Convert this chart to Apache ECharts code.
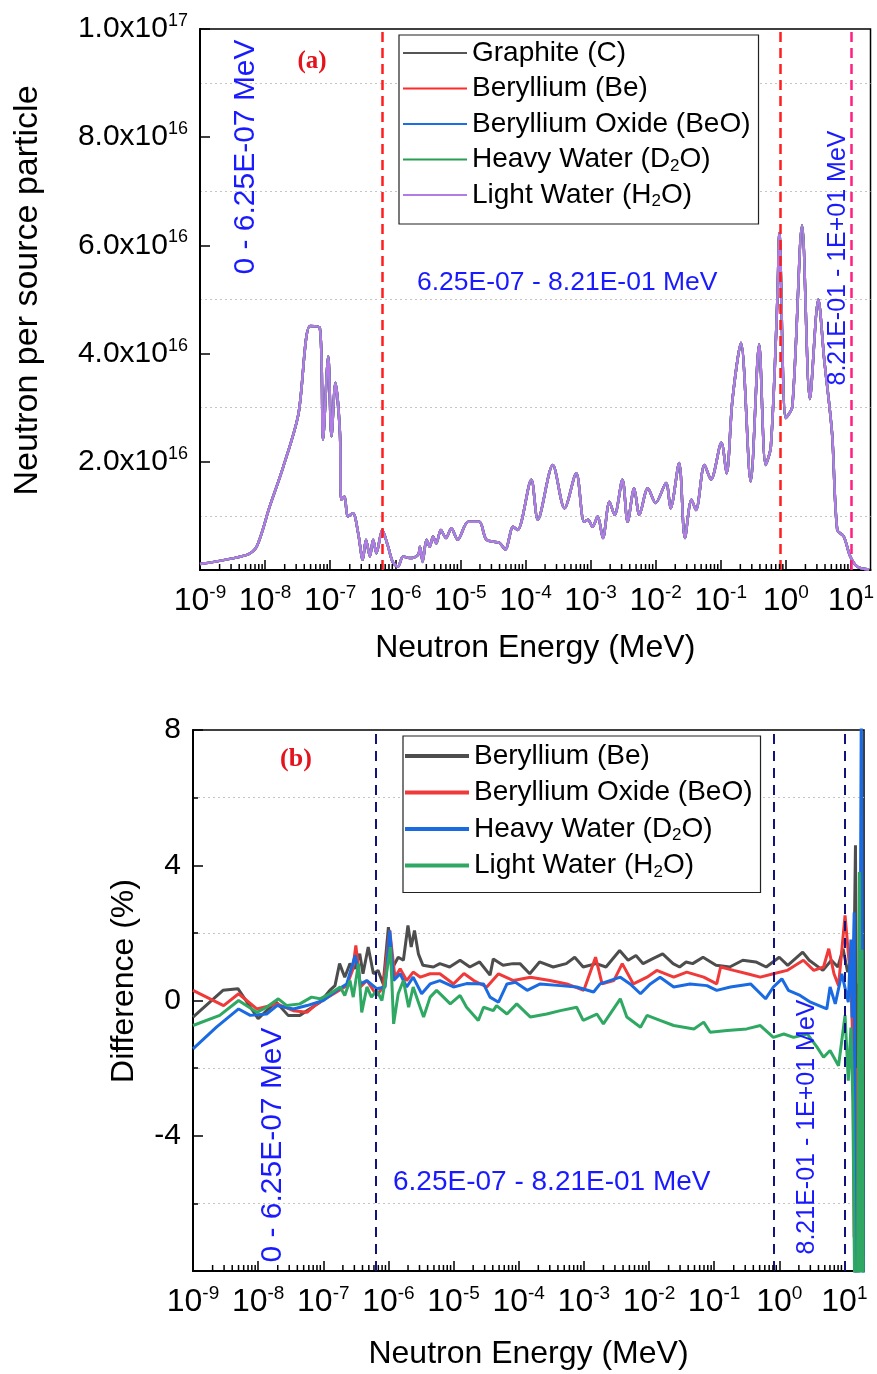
<!DOCTYPE html>
<html><head><meta charset="utf-8">
<script src="https://cdn.jsdelivr.net/npm/echarts@6/dist/echarts.min.js"></script>
<style>html,body{margin:0;padding:0;background:#fff}#c{width:877px;height:1374px}</style>
</head><body><div id="c"></div>
<script>
const FONT = '"Liberation Sans", Arial, sans-serif';
const SERIF = '"Liberation Serif", "Times New Roman", serif';

// ---------- Panel (a): neutron spectrum (x = log10 of energy in MeV, y in units of 1e16) ----------
const topLogE = [-9.00,-8.28,-8.13,-7.93,-7.72,-7.49,-7.31,-7.16,-7.11,-7.03,-6.98,-6.92,-6.85,-6.83,-6.78,-6.73,-6.65,-6.57,-6.50,-6.45,-6.39,-6.34,-6.29,-6.20,-6.11,-6.04,-5.96,-5.88,-5.78,-5.65,-5.62,-5.58,-5.52,-5.47,-5.42,-5.37,-5.30,-5.22,-5.14,-5.04,-4.88,-4.71,-4.60,-4.40,-4.31,-4.19,-4.12,-3.91,-3.81,-3.58,-3.40,-3.22,-3.10,-3.04,-2.97,-2.89,-2.81,-2.71,-2.63,-2.51,-2.43,-2.33,-2.25,-2.12,-2.00,-1.84,-1.77,-1.64,-1.55,-1.45,-1.38,-1.25,-1.15,-0.99,-0.91,-0.82,-0.69,-0.54,-0.41,-0.31,-0.23,-0.13,-0.10,0.00,0.10,0.25,0.37,0.50,0.59,0.71,0.79,0.89,0.99,1.10,1.28];
const topFlux = [0.11,0.28,0.43,1.17,1.91,2.87,4.51,4.48,2.41,3.95,2.47,3.46,2.53,1.30,1.36,0.99,1.05,0.68,0.19,0.56,0.25,0.56,0.31,0.74,0.43,0.15,0.06,0.25,0.22,0.28,0.43,0.15,0.56,0.43,0.62,0.49,0.74,0.59,0.77,0.56,0.89,0.89,0.56,0.50,0.38,0.80,0.74,1.67,0.93,1.94,1.14,1.79,0.89,0.93,0.80,0.99,0.59,1.26,1.02,1.67,0.89,1.51,1.02,1.51,1.24,1.61,1.14,1.98,0.59,1.30,1.11,1.94,1.67,2.35,1.79,3.15,4.20,1.64,4.17,1.94,2.28,5.00,6.23,2.81,3.02,6.37,3.16,5.00,3.89,2.53,0.74,0.62,0.25,0.06,0.01];
const topNames = ['Graphite (C)','Beryllium (Be)','Beryllium Oxide (BeO)','Heavy Water (D2O)','Light Water (H2O)'];
const topColors = ['#555555','#ff2a2a','#1c6ee6','#2a9d55','#b27be6'];

// ---------- Panel (b): difference (%) ----------
const beLogE = [-9.00,-8.54,-8.31,-8.00,-7.87,-7.72,-7.54,-7.36,-7.21,-7.05,-6.90,-6.82,-6.75,-6.67,-6.59,-6.52,-6.44,-6.39,-6.31,-6.23,-6.16,-6.08,-6.00,-5.93,-5.85,-5.77,-5.70,-5.65,-5.60,-5.54,-5.47,-5.31,-5.21,-5.06,-4.90,-4.75,-4.60,-4.44,-4.39,-4.24,-4.09,-3.98,-3.83,-3.68,-3.47,-3.27,-3.14,-3.01,-2.81,-2.66,-2.45,-2.32,-2.20,-2.09,-1.94,-1.79,-1.63,-1.53,-1.43,-1.33,-1.17,-0.97,-0.76,-0.56,-0.36,-0.20,0.00,0.13,0.36,0.46,0.67,0.80,0.90,0.98,1.05,1.10,1.13,1.17,1.19,1.21];
const beDiff = [-0.49,0.30,0.35,-0.54,-0.30,-0.05,-0.44,-0.44,-0.25,-0.05,0.30,0.44,1.09,0.69,1.09,0.94,1.38,0.79,1.58,0.79,0.89,0.49,2.17,0.99,1.28,1.19,2.22,1.58,2.07,1.38,1.04,0.99,1.09,0.99,1.19,0.99,1.14,0.75,1.23,1.04,1.09,1.09,0.79,1.14,0.99,1.09,1.28,0.99,1.09,0.99,1.48,1.19,1.33,1.09,1.24,1.38,1.09,0.99,1.14,1.09,1.28,1.04,0.99,1.19,1.14,0.99,1.28,1.04,1.43,1.19,0.89,1.19,0.99,1.53,0.84,1.20,-1.50,4.59,-3.00,0.50];

const beoLogE = [-9.00,-8.53,-8.30,-8.02,-7.71,-7.46,-7.25,-7.10,-6.84,-6.64,-6.55,-6.50,-6.43,-6.33,-6.18,-6.08,-5.98,-5.90,-5.82,-5.72,-5.62,-5.51,-5.36,-5.21,-5.00,-4.84,-4.69,-4.49,-4.31,-4.08,-3.82,-3.52,-3.26,-3.00,-2.82,-2.72,-2.54,-2.41,-2.24,-2.03,-1.88,-1.62,-1.42,-1.16,-0.96,-0.90,-0.70,-0.49,-0.29,-0.09,0.12,0.37,0.53,0.68,0.76,0.84,0.91,1.01,1.07,1.10,1.13,1.15,1.17,1.19];
const beoDiff = [0.30,-0.15,0.20,-0.25,-0.10,-0.30,-0.35,-0.10,0.20,0.44,0.90,1.63,0.40,0.59,0.15,0.40,2.07,0.69,0.94,0.59,0.84,0.69,0.79,0.79,0.49,0.80,0.59,0.40,0.79,0.59,0.69,0.59,0.49,0.30,1.28,0.49,0.59,1.09,0.49,0.69,0.89,0.69,0.84,0.69,0.49,0.99,0.89,0.79,0.69,0.79,0.89,1.19,0.89,0.99,1.53,0.79,0.44,2.52,1.19,0.90,-1.00,-7.00,-2.00,-9.00];

const d2oLogE = [-9.00,-8.64,-8.30,-8.12,-7.87,-7.71,-7.46,-7.25,-7.00,-6.79,-6.64,-6.51,-6.43,-6.33,-6.18,-6.05,-5.98,-5.92,-5.82,-5.72,-5.62,-5.49,-5.36,-5.21,-5.00,-4.80,-4.54,-4.44,-4.31,-4.18,-4.05,-3.87,-3.67,-3.36,-3.11,-2.85,-2.75,-2.44,-2.29,-2.13,-1.98,-1.83,-1.62,-1.37,-1.11,-0.96,-0.75,-0.44,-0.21,-0.09,0.04,0.14,0.32,0.48,0.73,0.78,0.86,0.96,1.06,1.10,1.12,1.15,1.17,1.22,1.26,1.29];
const d2oDiff = [-1.43,-0.79,-0.25,-0.44,-0.40,-0.15,-0.25,-0.15,0.00,0.30,0.49,1.33,0.49,0.59,0.35,0.40,2.07,0.59,0.79,0.40,0.69,0.20,0.49,0.59,0.40,0.50,0.49,0.10,-0.05,0.49,0.54,0.30,0.49,0.44,0.40,0.25,0.49,0.69,0.49,0.20,0.49,0.69,0.40,0.49,0.44,0.30,0.40,0.49,0.05,0.40,0.64,0.30,0.15,-0.05,-0.25,0.40,-0.10,0.79,-0.05,1.80,-0.50,2.60,-9.00,-9.00,9.00,-9.00];

const h2oLogE = [-9.00,-8.59,-8.30,-8.02,-7.87,-7.69,-7.56,-7.36,-7.18,-7.05,-6.90,-6.74,-6.67,-6.59,-6.54,-6.46,-6.41,-6.33,-6.26,-6.18,-6.10,-6.03,-5.97,-5.92,-5.85,-5.77,-5.69,-5.62,-5.54,-5.46,-5.36,-5.26,-5.05,-4.90,-4.80,-4.62,-4.54,-4.39,-4.34,-4.18,-4.03,-3.82,-3.57,-3.36,-3.11,-3.01,-2.80,-2.70,-2.44,-2.34,-2.13,-2.03,-1.83,-1.62,-1.31,-1.16,-1.06,-0.80,-0.50,-0.29,-0.09,0.07,0.22,0.43,0.58,0.68,0.78,0.91,1.01,1.06,1.10,1.13,1.16,1.20,1.23,1.25,1.27,1.29];
const h2oDiff = [-0.74,-0.44,0.00,-0.35,-0.20,0.05,-0.15,-0.10,0.10,0.05,0.20,0.40,0.15,0.59,0.10,1.09,-0.35,0.40,0.10,0.30,0.00,0.79,1.58,-0.69,0.20,0.59,-0.20,0.40,-0.05,-0.49,0.10,0.30,-0.10,0.15,-0.20,-0.59,-0.20,-0.30,-0.15,-0.40,-0.10,-0.49,-0.40,-0.30,-0.20,-0.59,-0.40,-0.69,0.05,-0.49,-0.79,-0.44,-0.59,-0.74,-0.84,-0.64,-0.94,-0.89,-0.84,-0.74,-1.09,-0.99,-1.09,-0.99,-1.38,-1.68,-1.48,-1.93,-0.44,-2.37,-0.80,-3.00,-9.00,-9.00,3.80,-9.00,1.50,-9.00];

const botNames = ['Beryllium (Be) ','Beryllium Oxide (BeO) ','Heavy Water (D2O) ','Light Water (H2O) '];
const botColors = ['#4d4d4d','#f03a3a','#1a6ae2','#2ea862'];

// region boundaries (MeV) and log-axis tick scheme
const boundaryE = [6.25e-7, 8.21e-1, 10];
const decades = [-9,-8,-7,-6,-5,-4,-3,-2,-1,0];
const minorMult = [2,3,4,5,6,7,8,9];
const xMaxE = 20;

const labelMap = {
  'Heavy Water (D2O)': 'Heavy Water (D{sub|2}O)',
  'Light Water (H2O)': 'Light Water (H{sub|2}O)',
  'Heavy Water (D2O) ': 'Heavy Water (D{sub|2}O)',
  'Light Water (H2O) ': 'Light Water (H{sub|2}O)'
};
const fmtLegend = n => labelMap[n] || n.trim();

const pair = (xs, ys) => xs.map((x, i) => [x, ys[i]]);
const minorPos = [];
decades.forEach(d => minorMult.forEach(m => minorPos.push(d + Math.log10(m))));

function xAxisCfg(gi, nameGap) {
  return {
    type: 'value', gridIndex: gi, min: -9, max: Math.log10(xMaxE), interval: 1,
    axisLine: {onZero: false, lineStyle: {color: '#000', width: 2}},
    axisTick: {inside: true, length: 10, lineStyle: {color: '#000', width: 1.5}},
    splitLine: {show: false},
    axisLabel: {
      margin: 13, color: '#000', fontFamily: FONT, fontSize: 32, lineHeight: 36,
      showMaxLabel: false,
      formatter: v => Math.abs(v - Math.round(v)) < 1e-6 ? '10{s|' + Math.round(v) + '}' : '',
      rich: {s: {fontSize: 19, fontFamily: FONT, color: '#000', lineHeight: 10, verticalAlign: 'top'}}
    },
    name: 'Neutron Energy (MeV)', nameLocation: 'middle', nameGap: nameGap,
    nameTextStyle: {fontSize: 32, fontFamily: FONT, color: '#000'}
  };
}

function minorTickSeries(gi, yBase) {
  return {
    type: 'custom', xAxisIndex: gi, yAxisIndex: gi, silent: true, z: 5,
    data: minorPos.map(v => [v, yBase]),
    renderItem: (params, api) => {
      const p = api.coord([api.value(0), api.value(1)]);
      return {type: 'line', shape: {x1: p[0], y1: p[1], x2: p[0], y2: p[1] - 6},
        style: {stroke: '#000', lineWidth: 1.5}};
    }
  };
}

const topMark = {
  silent: true, symbol: ['none', 'none'], label: {show: false},
  data: boundaryE.map((e, i) => ({xAxis: Math.log10(e),
    lineStyle: {color: i < 2 ? '#ff1e1e' : '#ff2080', width: 2.5, type: [10, 6]}}))
};
const botMark = {
  silent: true, symbol: ['none', 'none'], label: {show: false},
  data: boundaryE.map(e => ({xAxis: Math.log10(e),
    lineStyle: {color: '#12127e', width: 2, type: [10, 7]}}))
};

const series = [];
topNames.forEach((n, i) => {
  series.push({
    name: n, type: 'line', xAxisIndex: 0, yAxisIndex: 0, data: pair(topLogE, topFlux),
    symbol: 'none', showSymbol: false, smooth: 0.3,
    lineStyle: {color: topColors[i], width: 2.5}, itemStyle: {color: topColors[i]},
    markLine: i === 0 ? topMark : undefined
  });
});
const botX = [beLogE, beoLogE, d2oLogE, h2oLogE];
const botY = [beDiff, beoDiff, d2oDiff, h2oDiff];
botNames.forEach((n, i) => {
  series.push({
    name: n, type: 'line', xAxisIndex: 1, yAxisIndex: 1, data: pair(botX[i], botY[i]),
    symbol: 'none', showSymbol: false,
    lineStyle: {color: botColors[i], width: 3}, itemStyle: {color: botColors[i]},
    markLine: i === 0 ? botMark : undefined
  });
});
series.push(minorTickSeries(0, 0));
series.push(minorTickSeries(1, -8));

function legendCfg(names, left, top, padding, gap, lw) {
  return {
    orient: 'vertical', left: left, top: top, padding: padding, itemGap: gap,
    itemWidth: 64, itemHeight: lw, icon: 'rect', selectedMode: false,
    borderColor: '#222', borderWidth: 1.2, backgroundColor: '#fff',
    data: names, formatter: fmtLegend,
    textStyle: {fontSize: 28, fontFamily: FONT, color: '#000', lineHeight: 30,
      rich: {sub: {fontSize: 17, fontFamily: FONT, color: '#000', lineHeight: 8, verticalAlign: 'bottom'}}}
  };
}

const blue = '#1a1aff';
function txt(x, y, s, size, rot, align, opts) {
  const o = Object.assign({fill: blue, fontFamily: FONT, fontWeight: 'normal'}, opts || {});
  return {
    type: 'text', x: x, y: y, rotation: rot ? Math.PI / 2 : 0, z: 100,
    style: {text: s, fontSize: size, fontFamily: o.fontFamily, fontWeight: o.fontWeight, fill: o.fill,
      align: align, verticalAlign: 'middle', textAlign: align, textVerticalAlign: 'middle'}
  };
}

const option = {
  animation: false,
  backgroundColor: '#fff',
  grid: [
    {left: 200, top: 29, width: 672, height: 541, show: true, borderColor: '#000', borderWidth: 1.5, backgroundColor: 'transparent'},
    {left: 193, top: 730, width: 671, height: 541, show: true, borderColor: '#000', borderWidth: 1.5, backgroundColor: 'transparent'}
  ],
  xAxis: [xAxisCfg(0, 62), xAxisCfg(1, 67)],
  yAxis: [
    {
      type: 'value', gridIndex: 0, min: 0, max: 10, interval: 2,
      axisLine: {show: true, onZero: false, lineStyle: {color: '#000', width: 2}},
      axisTick: {show: true, inside: true, length: 10, lineStyle: {color: '#000', width: 1.5}},
      minorTick: {show: false, splitNumber: 2},
      splitLine: {show: false},
      minorSplitLine: {show: true, lineStyle: {color: '#c4c4c4', width: 1, type: [2, 3]}},
      axisLabel: {
        margin: 12, color: '#000', fontFamily: FONT, fontSize: 30, lineHeight: 34,
        formatter: v => v === 0 ? '' : (v === 10 ? '1.0x10{s|17}' : v.toFixed(1) + 'x10{s|16}'),
        rich: {s: {fontSize: 18, fontFamily: FONT, color: '#000', lineHeight: 16, verticalAlign: 'top'}}
      },
      name: 'Neutron per source particle', nameLocation: 'middle', nameGap: 155, nameRotate: 90,
      nameTextStyle: {fontSize: 34, fontFamily: FONT, color: '#000', padding: [0, 0, 0, 18]}
    },
    {
      type: 'value', gridIndex: 1, min: -8, max: 8, interval: 4,
      axisLine: {show: true, onZero: false, lineStyle: {color: '#000', width: 2}},
      axisTick: {show: true, inside: true, length: 10, lineStyle: {color: '#000', width: 1.5}},
      minorTick: {show: true, splitNumber: 2, length: 5, lineStyle: {color: '#000', width: 1.5}},
      splitLine: {show: false},
      minorSplitLine: {show: true, lineStyle: {color: '#c4c4c4', width: 1, type: [2, 3]}},
      axisLabel: {
        margin: 12, color: '#000', fontFamily: FONT, fontSize: 30,
        formatter: v => v === -8 ? '' : String(v)
      },
      name: 'Difference (%)', nameLocation: 'middle', nameGap: 53, nameRotate: 90,
      nameTextStyle: {fontSize: 32, fontFamily: FONT, color: '#000', padding: [0, 0, 0, 39]}
    }
  ],
  legend: [
    legendCfg(topNames, 399, 35, [3, 8, 14, 4], 5.5, 2),
    legendCfg(botNames, 403, 736, [5, 8, 12, 2], 6.5, 4)
  ],
  graphic: [
    txt(246, 157, '0 - 6.25E-07 MeV', 30, true, 'center'),
    txt(312, 62, '(a)', 25, false, 'center', {fill: '#e3141e', fontFamily: SERIF, fontWeight: 'bold'}),
    txt(417, 283, '6.25E-07 - 8.21E-01 MeV', 26.5, false, 'left'),
    txt(838, 258, '8.21E-01 - 1E+01 MeV', 25, true, 'center'),
    txt(273, 1145, '0 - 6.25E-07 MeV', 30, true, 'center'),
    txt(296, 759, '(b)', 26, false, 'center', {fill: '#e3141e', fontFamily: SERIF, fontWeight: 'bold'}),
    txt(393, 1182, '6.25E-07 - 8.21E-01 MeV', 28, false, 'left'),
    txt(807, 1127, '8.21E-01 - 1E+01 MeV', 25, true, 'center')
  ],
  series: series
};

const chart = echarts.init(document.getElementById('c'), null, {renderer: 'canvas'});
chart.setOption(option);
</script>
</body></html>
